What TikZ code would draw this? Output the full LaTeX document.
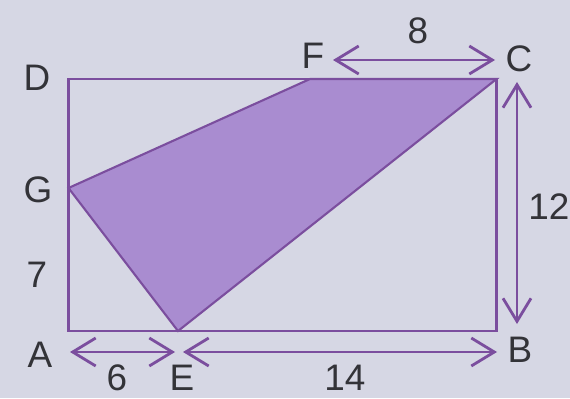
\documentclass[tikz,border=0pt]{standalone}
\usepackage{fontspec}
\setmainfont{Liberation Sans}
\usetikzlibrary{arrows.meta}

\definecolor{paper}{HTML}{D6D7E4}
\definecolor{shade}{HTML}{A98CD0}
\definecolor{edge}{HTML}{7B4E9E}
\definecolor{ink}{HTML}{333338}

\begin{document}
\begin{tikzpicture}[
  every node/.style={font=\fontsize{21}{24}\selectfont, text=ink, inner sep=1pt},
  side/.style={draw=edge, line width=1.2pt},
  dim/.style={draw=edge, line width=1.6pt,
    {Straight Barb[length=4.6mm,width=5.6mm]}-{Straight Barb[length=4.6mm,width=5.6mm]}}
]
  \fill[paper] (0,0) rectangle (11.4,7.96);
  \useasboundingbox (0,0) rectangle (11.4,7.96);

  % corners and cut points
  \coordinate (A) at (1.37,1.34);
  \coordinate (B) at (9.93,1.34);
  \coordinate (C) at (9.93,6.38);
  \coordinate (D) at (1.37,6.38);
  \coordinate (E) at (3.56,1.34);
  \coordinate (F) at (6.20,6.38);
  \coordinate (G) at (1.37,4.20);

  \filldraw[fill=shade, side] (G) -- (F) -- (C) -- (E) -- cycle;
  \draw[side] (A) rectangle (C);

  % dimension ends
  \coordinate (top1) at (6.66,6.76);
  \coordinate (top2) at (9.90,6.76);
  \coordinate (rgt1) at (10.34,6.32);
  \coordinate (rgt2) at (10.34,1.48);
  \coordinate (bot1) at (1.40,0.92);
  \coordinate (bot2) at (3.50,0.92);
  \coordinate (bot3) at (3.66,0.92);
  \coordinate (bot4) at (9.94,0.92);

  \draw[dim] (top1) -- (top2);
  \draw[dim] (rgt1) -- (rgt2);
  \draw[dim] (bot1) -- (bot2);
  \draw[dim] (bot3) -- (bot4);

  % letters
  \node (labD) at (0.74,6.40) {D};
  \node (labF) at (6.26,6.84) {F};
  \node (labC) at (10.38,6.78) {C};
  \node (labG) at (0.76,4.16) {G};
  \node (labA) at (0.80,0.86) {A};
  \node (labB) at (10.40,0.96) {B};
  \node (labE) at (3.64,0.40) {E};

  % lengths
  \node (len8)  at (8.36,7.34) {8};
  \node (len12) at (10.98,3.82) {12};
  \node (len7)  at (0.74,2.46) {7};
  \node (len6)  at (2.34,0.40) {6};
  \node (len14) at (6.90,0.40) {14};
\end{tikzpicture}
\end{document}
